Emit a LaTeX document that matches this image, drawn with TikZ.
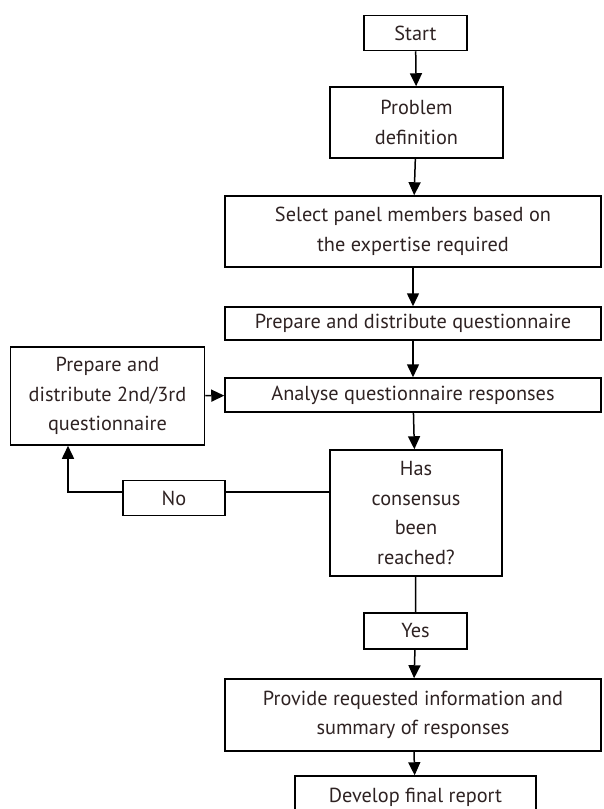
\documentclass[tikz,border=0pt]{standalone}
\usepackage{fontspec}
\setmainfont{PT Sans}
\usetikzlibrary{arrows.meta}
\definecolor{txt}{HTML}{2E2222}
\begin{document}
\begin{tikzpicture}[x=1pt,y=-1pt,
  box/.style={draw=black,line width=1.5pt,rectangle,inner sep=0pt,align=center,text=txt,
    font=\fontsize{20.3}{29.5}\selectfont},
  arr/.style={line width=1.5pt,-{Triangle[length=13pt,width=12pt]}},
  ln/.style={line width=1.5pt}]
\useasboundingbox (0,0) rectangle (603,809);
\node[box,minimum width=103pt,minimum height=35pt] (start) at (415.5,33) {Start};
\node[box,minimum width=173pt,minimum height=71pt] (prob) at (416.5,122.5) {Problem\\definition};
\node[box,minimum width=376pt,minimum height=71pt] (sel) at (413,231.5) {Select panel members based on\\the expertise required};
\node[box,minimum width=376pt,minimum height=33pt] (prep) at (413,323.5) {Prepare and distribute questionnaire};
\node[box,minimum width=376pt,minimum height=34pt] (ana) at (413,395) {Analyse questionnaire responses};
\node[box,minimum width=194pt,minimum height=98pt] (round) at (107.5,396) {Prepare and\\distribute 2nd/3rd\\questionnaire};
\node[box,minimum width=172pt,minimum height=126pt] (cons) at (416,513) {Has\\consensus\\been\\reached?};
\node[box,minimum width=102pt,minimum height=35pt] (no) at (174,498) {No};
\node[box,minimum width=103pt,minimum height=36pt] (yes) at (415.5,631) {Yes};
\node[box,minimum width=376pt,minimum height=72pt] (prov) at (413,715) {Provide requested information and\\summary of responses};
\node[box,minimum width=241pt,minimum height=60pt,text depth=22pt] (dev) at (415.5,806) {Develop final report};
\draw[arr] (start) -- (prob);
\draw[arr] (prob) -- (sel);
\draw[arr] (sel) -- (prep);
\draw[arr] (prep) -- (ana);
\draw[arr] (ana) -- (cons);
\draw[arr] (round) -- (ana);
\coordinate (c1) at (330,492);
\coordinate (n1) at (225,492);
\coordinate (n2) at (123,492);
\coordinate (turn) at (68,492);
\draw[ln] (c1) -- (n1);
\draw[arr] (n2) -- (turn) -- (round.south -| turn);
\draw[ln] (cons) -- (yes);
\draw[arr] (yes) -- (prov);
\draw[arr] (prov) -- (dev);
\end{tikzpicture}
\end{document}
